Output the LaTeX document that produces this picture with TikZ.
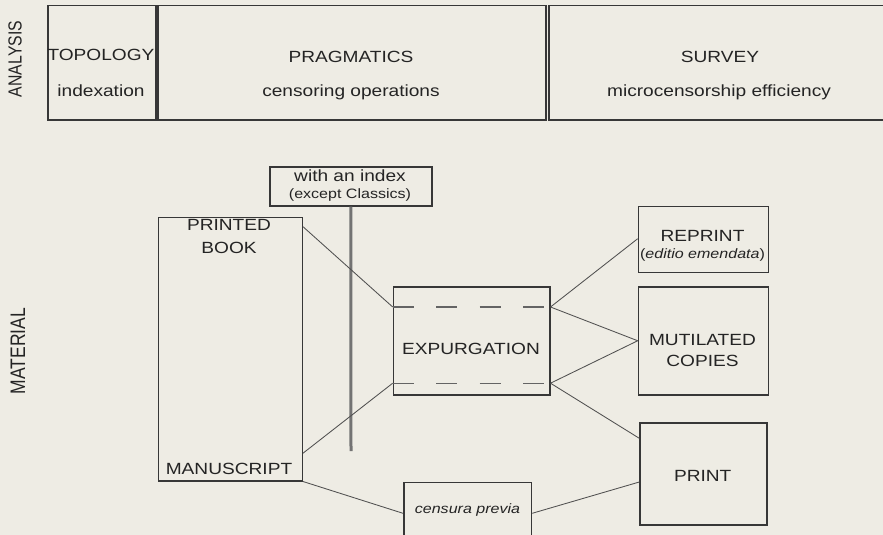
\documentclass[tikz,border=0pt]{standalone}
\usepackage{fontspec}
\setmainfont{Liberation Sans}[FakeStretch=1.18]
\newfontfamily\sidefont{Liberation Sans}
\definecolor{paper}{RGB}{238,236,228}
\definecolor{ink}{RGB}{36,36,36}
\definecolor{edge}{RGB}{55,55,55}
\definecolor{wirec}{RGB}{80,80,80}
\definecolor{dashc}{RGB}{100,100,100}
\definecolor{barc}{RGB}{115,115,115}
\begin{document}
\begin{tikzpicture}[x=1pt,y=-1pt,
  box/.style={draw=edge, line width=1.5pt, inner sep=0pt, anchor=north west},
  lbl/.style={text=ink, font=\fontsize{16.2}{20}\selectfont, anchor=base, inner sep=0pt},
  sml/.style={text=ink, font=\fontsize{13.6}{16}\selectfont, anchor=base, inner sep=0pt},
  side/.style={text=ink, inner sep=0pt, xscale=1.2, rotate=90},
  wire/.style={draw=wirec, line width=0.85pt},
  cut/.style={draw=dashc, line width=1.2pt, dash pattern=on 21pt off 22.5pt},
  bar/.style={draw=barc, line width=3pt},
]
\fill[paper] (0,0) rectangle (883,535);
\useasboundingbox (0,0) rectangle (883,535);

% side labels
\node[side, font=\sidefont\fontsize{15.8}{18}\selectfont] (anaL) at (15,59) {ANALYSIS};
\node[side, font=\sidefont\fontsize{17.5}{20}\selectfont] (matL) at (18,351) {MATERIAL};

% analysis boxes
\node[box, minimum width=108, minimum height=114] (topo) at (47,5) {};
\node[box, minimum width=388, minimum height=114] (prag) at (157,5) {};
\node[box, minimum width=360, minimum height=114] (surv) at (548,5) {};
\node[lbl] (topoA) at (101,60) {TOPOLOGY};
\node[lbl] (topoB) at (101,96) {indexation};
\node[lbl] (pragA) at (351,63) {PRAGMATICS};
\node[lbl] (pragB) at (351,96) {censoring operations};
\node[lbl] (survA) at (720,63) {SURVEY};
\node[lbl] (survB) at (719,96) {microcensorship efficiency};

% index box and bar
\node[box, minimum width=162, minimum height=39] (index) at (269,166) {};
\node[lbl] (indexA) at (350,181) {with an index};
\node[sml] (indexB) at (350,198) {(except Classics)};
\coordinate (barEnd) at (351,451);
\draw[bar] (index.south) -- (barEnd);

% material boxes
\node[box, minimum width=144, minimum height=263.3] (book) at (157.5,216.7) {};
\node[lbl] (bookA) at (229,230.7) {PRINTED};
\node[lbl] (bookB) at (229,253.3) {BOOK};
\node[lbl] (bookC) at (229,474) {MANUSCRIPT};

\node[box, minimum width=156.3, minimum height=108.3] (expu) at (392.7,286) {};
\node[lbl] (expuT) at (471,354) {EXPURGATION};
\draw[cut] ([yshift=-21pt]expu.north west) -- ([yshift=-21pt]expu.north east);
\draw[cut] ([yshift=12.6pt]expu.south west) -- ([yshift=12.6pt]expu.south east);

\node[box, minimum width=130, minimum height=66] (repr) at (637.7,205.7) {};
\node[lbl] (reprA) at (702.5,241.7) {REPRINT};
\node[sml] (reprB) at (702.5,258.3) {(\textit{editio emendata})};

\node[box, minimum width=130, minimum height=108] (muti) at (637.7,286) {};
\node[lbl] (mutiA) at (702.5,345) {MUTILATED};
\node[lbl] (mutiB) at (702.5,366) {COPIES};

\node[box, minimum width=126.7, minimum height=101.7] (print) at (639.3,422.3) {};
\node[lbl] (printT) at (702.7,481) {PRINT};

\node[box, minimum width=127.7, minimum height=80] (cens) at (403,481.7) {};
\node[sml] (censT) at (467.5,513.3) {\textit{censura previa}};

% connectors
\draw[wire] ([yshift=-10pt]book.north east) -- ([yshift=-21pt]expu.north west);
\draw[wire] ([yshift=28.3pt]book.south east) -- ([yshift=12.6pt]expu.south west);
\draw[wire] (book.south east) -- ([yshift=-31.6pt]cens.north west);
\draw[wire] ([yshift=-31.6pt]cens.north east) -- ([yshift=-59.7pt]print.north west);
\draw[wire] ([yshift=-21pt]expu.north east) -- ([yshift=-33pt]repr.north west);
\draw[wire] ([yshift=-21pt]expu.north east) -- (muti.west);
\draw[wire] ([yshift=12.6pt]expu.south east) -- (muti.west);
\draw[wire] ([yshift=12.6pt]expu.south east) -- ([yshift=-16pt]print.north west);
\end{tikzpicture}
\end{document}
